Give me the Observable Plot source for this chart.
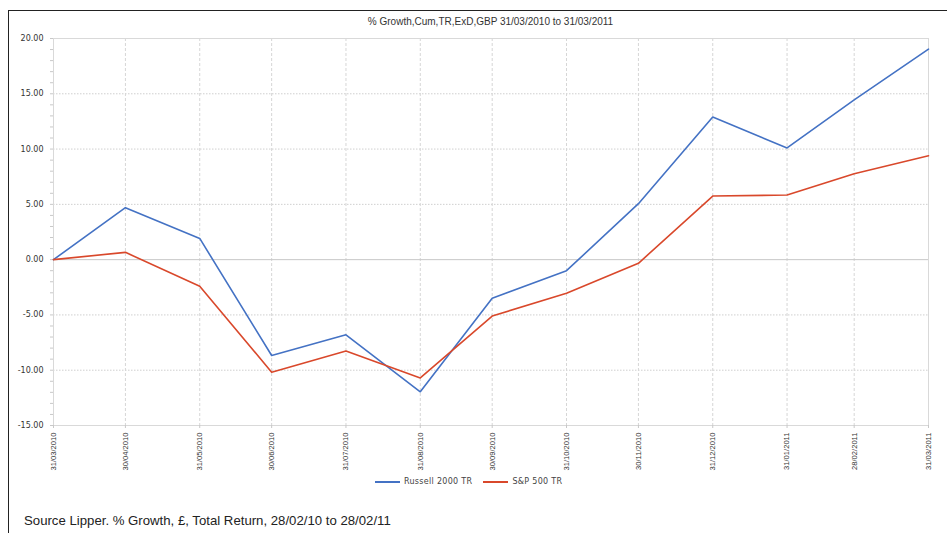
<!DOCTYPE html>
<html>
<head>
<meta charset="utf-8">
<script src="https://cdn.jsdelivr.net/npm/d3@7"></script>
<script src="https://cdn.jsdelivr.net/npm/@observablehq/plot@0.6"></script>
<style>
  html, body { margin: 0; padding: 0; background: #fff; }
  #wrap { position: relative; width: 947px; height: 533px; overflow: hidden; background: #fff; }
  #frame { position: absolute; left: 8px; top: 10px; width: 1000px; height: 600px; border-left: 1.5px solid #222; border-top: 1.5px solid #222; }
  #chart { position: absolute; left: 0; top: 0; }
  #title { position: absolute; left: 0; width: 981px; top: 16px; text-align: center; font-family: "Liberation Sans", Arial, sans-serif; font-size: 10px; color: #333; }
  #legend { position: absolute; top: 477px; left: 375px; font-family: "DejaVu Sans", sans-serif; font-size: 8px; color: #444; display: flex; align-items: center; letter-spacing: 0.3px; }
  .sw { display: inline-block; width: 25px; height: 2px; margin-right: 4px; }
  .item { display: flex; align-items: center; margin-right: 11px; }
  #caption { position: absolute; left: 24px; top: 513px; font-family: "Liberation Sans", Arial, sans-serif; font-size: 13.2px; color: #222; }
</style>
</head>
<body>
<div id="wrap">
  <div id="frame"></div>
  <div id="chart"></div>
  <div id="title">% Growth,Cum,TR,ExD,GBP 31/03/2010 to 31/03/2011</div>
  <div id="legend"></div>
  <div id="caption">Source Lipper. % Growth, £, Total Return, 28/02/10 to 28/02/11</div>
</div>
<script>
const dates = ["2010-03-31","2010-04-30","2010-05-31","2010-06-30","2010-07-31","2010-08-31","2010-09-30","2010-10-31","2010-11-30","2010-12-31","2011-01-31","2011-02-28","2011-03-31"];
const russell = [0, 4.70, 1.92, -8.67, -6.80, -11.95, -3.50, -1.00, 5.06, 12.90, 10.10, 14.45, 19.04];
const sp500 = [0, 0.66, -2.41, -10.18, -8.26, -10.70, -5.10, -3.03, -0.33, 5.75, 5.84, 7.77, 9.40];
const seriesNames = ["Russell 2000 TR", "S&P 500 TR"];
const seriesColors = ["#4472c4", "#d9482b"];
const yTicks = [-15, -10, -5, 0, 5, 10, 15, 20];

const parse = d3.utcParse("%Y-%m-%d");
const dateObjs = dates.map(parse);
const data = [];
[russell, sp500].forEach((vals, s) => {
  vals.forEach((v, i) => data.push({date: dateObjs[i], value: v, series: seriesNames[s]}));
});
const minorTicks = d3.range(-15, 21, 1);

const chart = Plot.plot({
  width: 947,
  height: 475,
  marginLeft: 53,
  marginRight: 19,
  marginTop: 38,
  marginBottom: 50,
  x: {type: "utc", domain: [dateObjs[0], dateObjs[dateObjs.length - 1]]},
  y: {domain: [-15, 20]},
  color: {domain: seriesNames, range: seriesColors},
  style: {background: "transparent", color: "#333"},
  marks: [
    Plot.ruleY(yTicks.filter(t => t !== 0 && t !== 20 && t !== -15), {stroke: "#cfcfcf", strokeDasharray: "1.5,1.5"}),
    Plot.ruleX(dateObjs.slice(1, -1), {stroke: "#d6d6d6", strokeDasharray: "3,2"}),
    Plot.ruleY([0], {stroke: "#c8c8c8", strokeWidth: 1}),
    Plot.frame({stroke: "#d9d9d9"}),
    Plot.axisY(minorTicks, {tickSize: 3, tickFormat: () => "", stroke: "#c8c8c8", label: null}),
    Plot.axisY(yTicks, {tickSize: 0, tickPadding: 10, tickFormat: d => d.toFixed(2), fontSize: 8, fontFamily: "DejaVu Sans", fill: "#333", label: null}),
    Plot.axisX(dateObjs, {tickSize: 3, tickPadding: 4, tickRotate: -90, tickFormat: d3.utcFormat("%d/%m/%Y"), stroke: "#c8c8c8", fontSize: 7.6, fontFamily: "Liberation Sans", fill: "#333", label: null}),
    Plot.line(data, {x: "date", y: "value", stroke: "series", strokeWidth: 1.6})
  ]
});
document.getElementById("chart").appendChild(chart);

const legend = document.getElementById("legend");
seriesNames.forEach((name, i) => {
  const item = document.createElement("div");
  item.className = "item";
  const sw = document.createElement("span");
  sw.className = "sw";
  sw.style.background = seriesColors[i];
  item.appendChild(sw);
  const t = document.createElement("span");
  t.textContent = name;
  item.appendChild(t);
  legend.appendChild(item);
});
</script>
</body>
</html>
